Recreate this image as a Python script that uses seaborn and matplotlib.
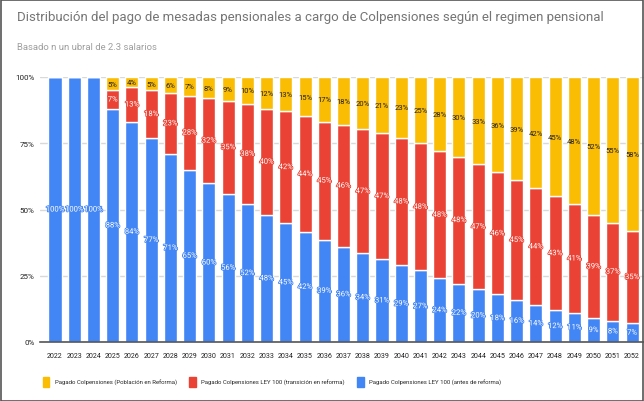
import matplotlib
matplotlib.use("Agg")
import matplotlib.pyplot as plt
import matplotlib.patheffects as pe
import seaborn as sns
import pandas as pd
import numpy as np
from matplotlib.patches import Rectangle, Patch

years = [str(y) for y in range(2022, 2053)]
antes = [100, 100, 100, 88, 84, 77, 71, 65, 60, 56, 52, 48, 45, 42, 39, 36, 34, 31, 29, 27,
         24, 22, 20, 18, 16, 14, 12, 11, 9, 8, 7]
transicion = [0, 0, 0, 7, 13, 18, 23, 28, 32, 35, 38, 40, 42, 44, 45, 46, 47, 47, 48, 48,
              48, 48, 47, 46, 45, 44, 43, 41, 39, 37, 35]
reforma = [0, 0, 0, 5, 4, 5, 6, 7, 8, 9, 10, 12, 13, 15, 17, 18, 20, 21, 23, 25,
           28, 30, 33, 36, 39, 42, 45, 48, 52, 55, 58]
series_names = ["Pagado Colpensiones (Población en Reforma)",
                "Pagado Colpensiones LEY 100 (transición en reforma)",
                "Pagado Colpensiones LEY 100 (antes de reforma)"]
y_ticks = [0, 25, 50, 75, 100]
y_tick_labels = ["0%", "25%", "50%", "75%", "100%"]

BLUE, RED, YELLOW = "#4285F4", "#EA4335", "#FBBC04"
FONT = ["Roboto", "DejaVu Sans"]

sns.set_theme(style="white")
plt.rcParams["font.family"] = FONT

df = pd.DataFrame({"year": years, "antes": antes, "trans": transicion, "ref": reforma})
tot = df["antes"] + df["trans"] + df["ref"]
df["antes_s"] = df["antes"] / tot * 100
df["trans_s"] = df["trans"] / tot * 100
df["ref_s"] = df["ref"] / tot * 100

fig = plt.figure(figsize=(6.44, 4.02), dpi=100)
ax = fig.add_axes([40 / 644, (402 - 343) / 402, (644 - 40) / 644, (343 - 78) / 402])

w = 0.68
sns.barplot(data=df, x="year", y="antes_s", color=BLUE, width=w, ax=ax,
            saturation=1, errorbar=None, order=years)
sns.barplot(data=df, x="year", y="trans_s", color=RED, width=w, ax=ax,
            saturation=1, errorbar=None, order=years, bottom=df["antes_s"].values)
sns.barplot(data=df, x="year", y="ref_s", color=YELLOW, width=w, ax=ax,
            saturation=1, errorbar=None, order=years,
            bottom=(df["antes_s"] + df["trans_s"]).values)

raw = [antes, transicion, reforma]
colors_txt = ["white", "white", "#222222"]
halo = [BLUE, RED, None]
for cont, vals, ctxt, hc in zip(ax.containers, raw, colors_txt, halo):
    labels = [f"{v}%" if v > 0 else "" for v in vals]
    texts = ax.bar_label(cont, labels=labels, label_type="center", fontsize=5.5,
                         color=ctxt, family=FONT)
    if hc:
        for t in texts:
            t.set_path_effects([pe.withStroke(linewidth=1.2, foreground=hc)])

ax.set_xlim(-0.78, 30.62)
ax.set_ylim(0, 100)
ax.set_yticks(y_ticks)
ax.set_yticklabels(y_tick_labels)
ax.set_xlabel("")
ax.set_ylabel("")
ax.yaxis.grid(True, color="#d9d9d9", linewidth=1)
ax.set_axisbelow(True)
for s in ["top", "right", "left"]:
    ax.spines[s].set_visible(False)
ax.spines["bottom"].set_color("#555555")
ax.spines["bottom"].set_linewidth(1.2)
ax.tick_params(axis="y", length=0, labelsize=5.8, colors="#222222", pad=4)
ax.tick_params(axis="x", length=0, labelsize=5.1, colors="#222222", pad=7)

fig.text(17 / 644, 1 - 17 / 402, "Distribución del pago de mesadas pensionales a cargo de Colpensiones según el regimen pensional",
         fontsize=9.5, color="#757575", va="center", ha="left")
fig.text(17 / 644, 1 - 47 / 402, "Basado n un ubral de 2.3 salarios",
         fontsize=6.8, color="#9e9e9e", va="center", ha="left")

handles = [Patch(color=YELLOW), Patch(color=RED), Patch(color=BLUE)]
fig.legend(handles, series_names, loc="center", bbox_to_anchor=(272 / 644, 1 - 383 / 402),
           ncol=3, frameon=False, fontsize=4.35, handlelength=1.1, handleheight=2.0,
           handletextpad=0.9, columnspacing=2.0)

fig.add_artist(Rectangle((0.001, 0.001), 0.997, 0.997, transform=fig.transFigure,
                         fill=False, edgecolor="#555555", linewidth=1.2))

fig.savefig("out.png", dpi=100)
